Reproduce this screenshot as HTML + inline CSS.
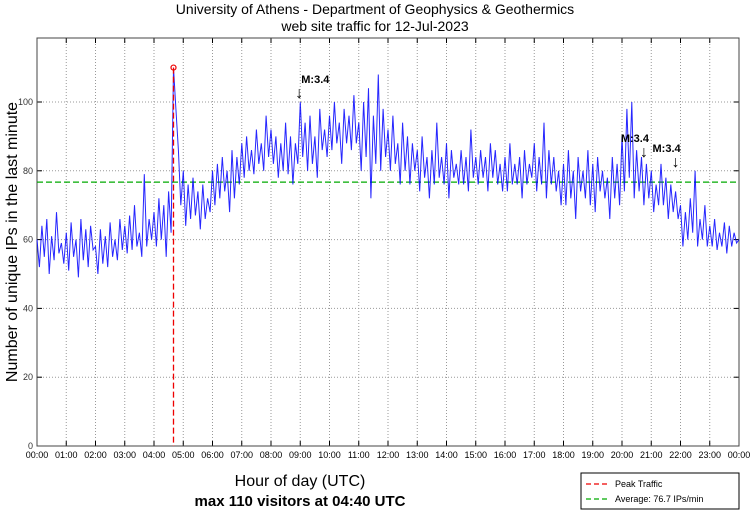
<!DOCTYPE html>
<html><head><meta charset="utf-8"><style>
body{margin:0;background:#fff;}
svg text{font-family:"Liberation Sans",sans-serif;}
</style></head><body>
<svg id="chart" width="750" height="511" xmlns="http://www.w3.org/2000/svg">
<rect width="750" height="511" fill="#fff"/>
<text x="375" y="14" text-anchor="middle" font-size="14">University of Athens - Department of Geophysics &amp; Geothermics</text>
<text x="375" y="31" text-anchor="middle" font-size="14">web site traffic for 12-Jul-2023</text>
<g id="grid"></g>
<g id="axes"></g>
<text transform="translate(17,242) rotate(-90)" text-anchor="middle" font-size="16">Number of unique IPs in the last minute</text>
<text x="300" y="486" text-anchor="middle" font-size="16">Hour of day (UTC)</text>
<text x="300" y="506" text-anchor="middle" font-size="15" font-weight="bold">max 110 visitors at 04:40 UTC</text>
<g>
<rect x="581" y="473" width="158" height="36" fill="#fff" stroke="#000" stroke-width="1"/>
<line x1="586" y1="484" x2="610" y2="484" stroke="#e00" stroke-dasharray="5,3" stroke-width="1.3"/>
<text x="615" y="487" font-size="9">Peak Traffic</text>
<line x1="586" y1="499" x2="610" y2="499" stroke="#0a0" stroke-dasharray="5,3" stroke-width="1.3"/>
<text x="615" y="502" font-size="9">Average: 76.7 IPs/min</text>
</g>
</svg>
<script>
const hourLabels=["00:00","01:00","02:00","03:00","04:00","05:00","06:00","07:00","08:00","09:00","10:00","11:00","12:00","13:00","14:00","15:00","16:00","17:00","18:00","19:00","20:00","21:00","22:00","23:00","00:00"];
const yTicks=[0,20,40,60,80,100];
const average=76.7;
const peakMinute=280;
const peakValue=110;
const sampleStepMin=5;
const visitors=[
60,52,64,55,66,50,61,54,68,56,59,53,
62,51,65,55,60,49,66,54,63,52,64,57,
58,50,63,53,61,52,65,55,60,54,66,57,
64,56,67,57,70,58,62,55,79,58,66,60,
68,58,72,60,70,55,74,62,110,98,86,70,
80,64,76,66,78,67,74,63,76,66,72,68,
80,70,82,72,84,74,80,68,86,72,84,76,
88,78,90,80,86,79,92,82,88,80,96,84,
92,82,90,78,88,80,94,79,90,76,88,82,
100,84,94,80,96,82,90,78,98,86,92,84,
96,86,100,88,94,82,98,88,96,86,102,88,
94,80,100,84,104,72,96,82,108,80,98,84,
92,80,96,82,88,76,94,80,90,76,88,80,
86,74,90,78,84,72,86,76,94,78,84,76,
88,72,86,78,82,76,86,76,84,74,92,78,
84,76,86,78,84,74,88,78,86,76,82,74,
84,74,88,76,82,76,84,72,86,76,82,78,
88,74,84,76,94,72,86,76,84,74,80,70,
82,70,86,72,80,66,84,74,80,72,86,70,
82,68,84,74,80,72,78,66,84,72,82,70,
90,74,98,78,100,72,86,74,84,70,82,72,
80,68,76,70,82,70,78,66,76,68,74,66,
70,58,68,60,72,62,80,58,66,60,70,58,
64,58,66,57,62,58,65,56,64,58,62,59,60];
const quakeLabels=["M:3.4","M:3.4","M:3.4"];
const quakeMinutes=[538,1245,1310];

const L=37,R=739,T=38,B=446,yMax=118.6;
const xs=m=>L+(R-L)*m/1440;
const ys=v=>B-(B-T)*v/yMax;
const NS="http://www.w3.org/2000/svg";
const svg=document.getElementById('chart');
const grid=document.getElementById('grid');
const axes=document.getElementById('axes');
function mk(tag,attrs,parent){const e=document.createElementNS(NS,tag);for(const k in attrs)e.setAttribute(k,attrs[k]);(parent||svg).appendChild(e);return e;}

hourLabels.forEach((lab,i)=>{
  const x=xs(i*60);
  if(i>0&&i<24){const g=mk('line',{x1:x,y1:T,x2:x,y2:B,stroke:'#999','stroke-dasharray':'1,2','stroke-width':1},grid);
  
  }
  mk('line',{x1:x,y1:B,x2:x,y2:B-5,stroke:'#000'},axes);
  mk('line',{x1:x,y1:T,x2:x,y2:T+5,stroke:'#000'},axes);
  const t=mk('text',{x:x,y:B+12,'text-anchor':'middle','font-size':9},axes);
  t.textContent=lab;
  
  
});
yTicks.forEach(v=>{
  const y=ys(v);
  if(v>0){const g=mk('line',{x1:L,y1:y,x2:R,y2:y,stroke:'#999','stroke-dasharray':'1,2'},grid);
  
  }
  mk('line',{x1:L,y1:y,x2:L+5,y2:y,stroke:'#000'},axes);
  mk('line',{x1:R,y1:y,x2:R-5,y2:y,stroke:'#000'},axes);
  const t=mk('text',{x:L-4,y:y+3,'text-anchor':'end','font-size':9,fill:'#333'},axes);
  t.textContent=v;
  
  
});
const frame=mk('rect',{x:L,y:T,width:R-L,height:B-T,fill:'none',stroke:'#444'},axes);



const avg=mk('line',{x1:L,y1:ys(average),x2:R,y2:ys(average),stroke:'#0a0','stroke-dasharray':'6,3','stroke-width':1.3});



const pts=visitors.map((v,i)=>xs(i*sampleStepMin).toFixed(1)+','+ys(v).toFixed(1)).join(' ');
const line=mk('polyline',{points:pts,fill:'none',stroke:'#0000ff','stroke-width':1,'stroke-opacity':0.85});



const pk=mk('line',{x1:xs(peakMinute),y1:ys(peakValue),x2:xs(peakMinute),y2:B,stroke:'#e00','stroke-dasharray':'6,3','stroke-width':1.3});


const pc=mk('circle',{cx:xs(peakMinute),cy:ys(peakValue),r:2.5,fill:'none',stroke:'#e00','stroke-width':1.2});



quakeMinutes.forEach((m,i)=>{
  const x=xs(m);
  const ty=i===0?83:(i===1?142:152);
  const t=mk('text',i===0?{x:x+2,y:ty,'font-size':11,'font-weight':'bold'}:{x:x+5,y:ty,'font-size':11,'font-weight':'bold','text-anchor':'end'});
  t.textContent=quakeLabels[i];
  
  
  const a=mk('text',{x:x,y:ty+15,'font-size':16,'text-anchor':'middle'});
  a.textContent='↓';
  
  
});
</script>
</body></html>
